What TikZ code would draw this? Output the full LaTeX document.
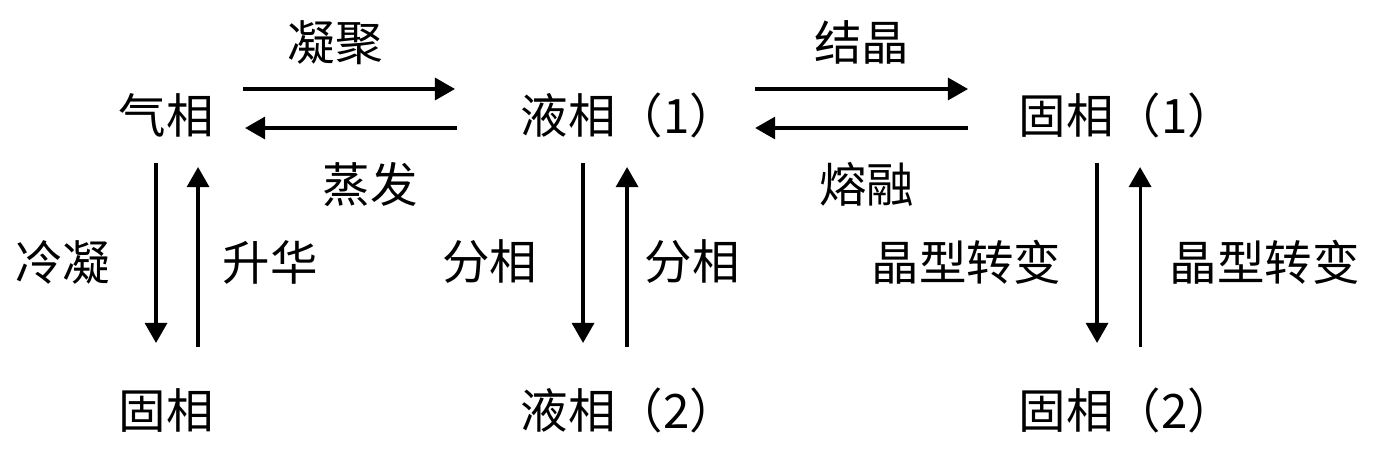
\documentclass[tikz,border=0pt]{standalone}
\usepackage{fontspec}
\newfontfamily\cjk{Noto Sans CJK SC}
\usepackage{tikz}
\usetikzlibrary{arrows.meta, positioning}

\begin{document}
\begin{tikzpicture}[
        x=0.01cm, y=-0.01cm,
        phase/.style={inner sep=0, anchor=west, font=\cjk\fontsize{13.5}{15}\selectfont},
        proc/.style={inner sep=0, font=\cjk\fontsize{13.5}{15}\selectfont},
        op_arrow/.style={-{Triangle[length=0.2cm, width=0.22cm]}, line width=0.9pt}
    ]
    \useasboundingbox (0,0) rectangle (1380,463);

    % --- phases ---
    \node[phase] (gas) at (118,115) {气相};
    \node[phase] (liq1) at (520,115) {液相（1）};
    \node[phase] (sol1) at (1018,115) {固相（1）};
    \node[phase] (sol0) at (118,410) {固相};
    \node[phase] (liq2) at (520,410) {液相（2）};
    \node[phase] (sol2) at (1018,410) {固相（2）};

    % --- gas <-> liquid ---
    \draw[op_arrow] ([xshift=1.25cm, yshift=0.26cm]gas.west) -- node[proc, midway, above=0.23cm, xshift=-0.14cm] {凝聚} ([xshift=-0.65cm, yshift=0.26cm]liq1.west);
    \draw[op_arrow] ([xshift=-0.63cm, yshift=-0.13cm]liq1.west) -- node[proc, midway, below=0.33cm, xshift=0.19cm] {蒸发} ([xshift=1.27cm, yshift=-0.13cm]gas.west);

    % --- liquid <-> solid ---
    \draw[op_arrow] ([xshift=2.35cm, yshift=0.26cm]liq1.west) -- node[proc, midway, above=0.23cm] {结晶} ([xshift=-0.5cm, yshift=0.26cm]sol1.west);
    \draw[op_arrow] ([xshift=-0.5cm, yshift=-0.13cm]sol1.west) -- node[proc, midway, below=0.33cm, xshift=0.05cm] {熔融} ([xshift=2.35cm, yshift=-0.13cm]liq1.west);

    % --- vertical pairs ---
    \draw[op_arrow] ([xshift=0.38cm, yshift=-0.48cm]gas.west) -- node[proc, midway, left=0.44cm, yshift=-0.09cm] {冷凝} ([xshift=0.38cm, yshift=0.67cm]sol0.west);
    \draw[op_arrow] ([xshift=0.8cm, yshift=0.63cm]sol0.west) -- node[proc, midway, right=0.23cm, yshift=-0.05cm] {升华} ([xshift=0.8cm, yshift=-0.52cm]gas.west);

    \draw[op_arrow] ([xshift=0.63cm, yshift=-0.48cm]liq1.west) -- node[proc, midway, left=0.44cm, yshift=-0.09cm] {分相} ([xshift=0.63cm, yshift=0.67cm]liq2.west);
    \draw[op_arrow] ([xshift=1.07cm, yshift=0.63cm]liq2.west) -- node[proc, midway, right=0.16cm, yshift=-0.05cm] {分相} ([xshift=1.07cm, yshift=-0.52cm]liq1.west);

    \draw[op_arrow] ([xshift=0.79cm, yshift=-0.48cm]sol1.west) -- node[proc, midway, left=0.34cm, yshift=-0.09cm] {晶型转变} ([xshift=0.79cm, yshift=0.67cm]sol2.west);
    \draw[op_arrow] ([xshift=1.22cm, yshift=0.63cm]sol2.west) -- node[proc, midway, right=0.28cm, yshift=-0.05cm] {晶型转变} ([xshift=1.22cm, yshift=-0.52cm]sol1.west);
\end{tikzpicture}
\end{document}
